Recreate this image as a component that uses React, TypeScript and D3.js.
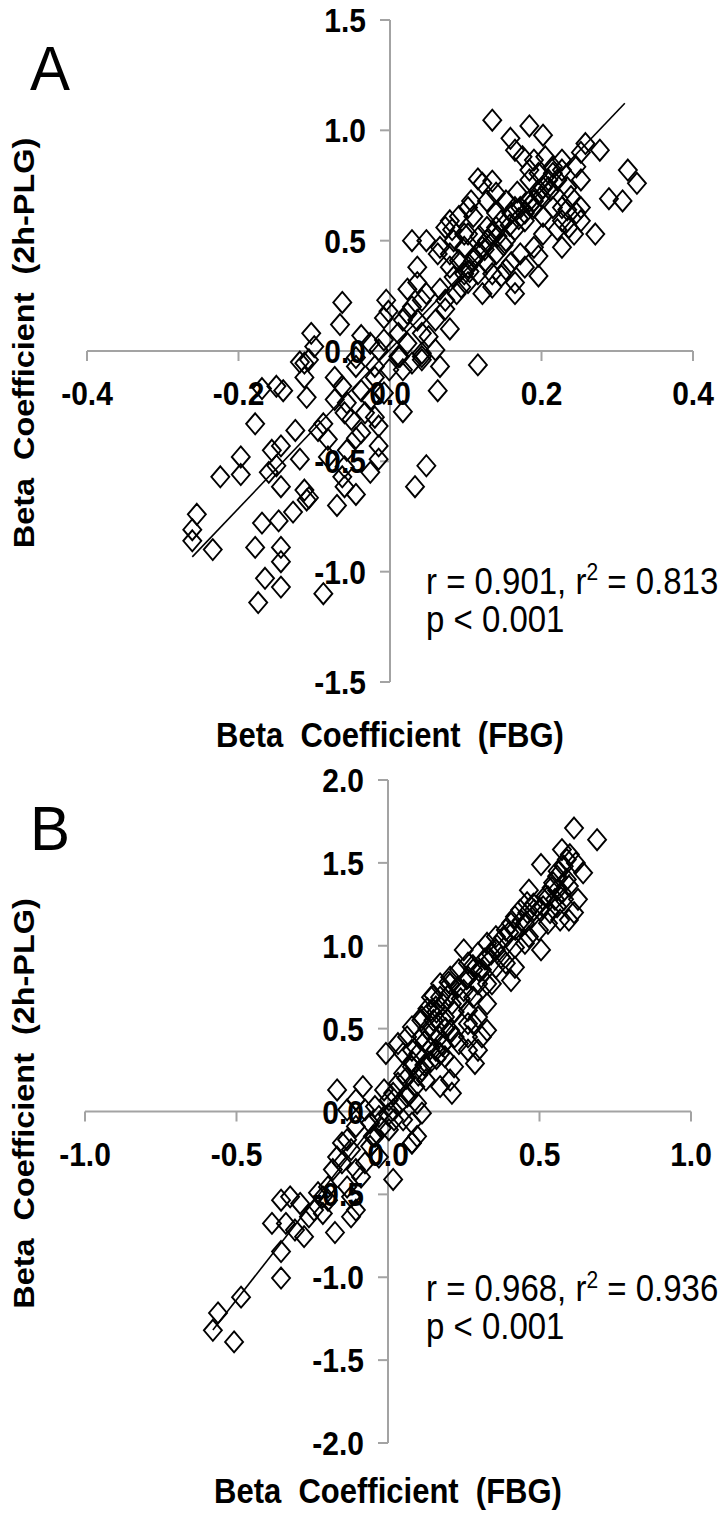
import React, { useEffect, useRef } from "react";
import * as d3 from "d3";

// ---------- DATA ----------
// Panel A: Beta coefficient (FBG) vs Beta coefficient (2h-PLG)
const panelA_x: number[] = [
  0.135, 0.184, 0.202, 0.159, 0.165, 0.175, 0.205, 0.258, 0.277, 0.252, 0.314, 0.326, 0.307, 0.289, 0.271, 0.252, 0.252, 0.227, 0.243,
  0.116, 0.122, 0.135, 0.107, 0.11, 0.029, 0.048, 0.063, 0.082, 0.091, 0.036, 0.165, 0.196, 0.196, 0.147, 0.153,
  -0.063, -0.066, -0.005, -0.002, -0.008, 0.023, 0.036, 0.066, 0.079, 0.116, 0.063, 0.042, 0.06,
  -0.104, -0.1, -0.038, -0.045, -0.107, -0.119, -0.15, -0.169,
  0.017, 0.048, 0.033, -0.178, -0.197, -0.224, -0.197, -0.255, -0.261, -0.261, -0.234, -0.178, -0.169, -0.147, -0.144, -0.144,
  -0.165, -0.144, -0.174, -0.088, -0.128, -0.11, -0.07, -0.045, -0.06, -0.026, -0.015, -0.015, -0.015, -0.045, -0.082, -0.082,
  -0.088, -0.095, -0.125, -0.144, -0.156, -0.15, -0.16, -0.144, -0.119, -0.113, -0.107, -0.141, -0.11, -0.113, -0.113,
  -0.073, -0.063, -0.073, -0.057, -0.038, -0.033, -0.051, -0.06, -0.02, -0.008, -0.001, 0.017, 0.013, -0.02, -0.026, -0.038,
  -0.057, -0.06, -0.063, 0.029, 0.042,
  0.011, 0.017, 0.023, 0.029, 0.042, 0.048, 0.036, 0.042, 0.023, 0.051, 0.06, 0.073, 0.073, 0.088, 0.094, 0.098, 0.103, 0.11,
  0.116, 0.122, 0.128, 0.135, 0.14, 0.147, 0.16, 0.172, 0.184, 0.196, 0.209, 0.221, 0.215, 0.227, 0.196, 0.184, 0.19, 0.178,
  0.165, 0.153, 0.14, 0.128, 0.116, 0.103, 0.084, 0.079, 0.091, 0.098, 0.103, 0.128, 0.14, 0.153, 0.165, 0.178, 0.202, 0.215,
  0.227, 0.221, 0.202, 0.19, 0.172, 0.16, 0.178, 0.165, 0.135, 0.122, 0.135, 0.084, 0.066, 0.079, 0.234, 0.239, 0.252, 0.246,
  0.227, 0.215, 0.209, 0.19, 0.184, 0.202, 0.19, 0.227, 0.234, 0.246, 0.236, 0.14, 0.128, 0.103, 0.079, 0.073, 0.098,
  0.011, -0.008, -0.015, -0.026, -0.02, -0.045, 0.066, 0.042,
  0.112, 0.125, 0.142, 0.158, 0.17, 0.185, 0.2, 0.212, 0.105, 0.118, 0.15, 0.168,
];
const panelA_y: number[] = [
  1.046, 1.02, 0.978, 0.964, 0.91, 0.88, 0.88, 0.94, 0.91, 0.9, 0.82, 0.76, 0.68, 0.69, 0.53, 0.65, 0.59, 0.47, 0.53,
  0.78, 0.76, 0.77, 0.68, 0.61, 0.5, 0.5, 0.44, 0.55, 0.61, 0.38, 0.26, 0.34, 0.43, 0.34, 0.37,
  0.22, 0.12, 0.23, 0.18, 0.15, 0.28, 0.31, 0.28, 0.1, -0.063, -0.18, -0.01, 0.005,
  0.08, 0.02, 0.07, -0.03, -0.04, -0.05, -0.16, -0.17,
  -0.275, -0.52, -0.615, -0.33, -0.48, -0.57, -0.56, -0.74, -0.81, -0.86, -0.9, -0.89, -0.78, -0.77, -0.89, -0.955,
  -1.03, -1.07, -1.14, -1.1, -0.73, -0.675, -0.7, -0.65, -0.615, -0.55, -0.49, -0.43, -0.34, -0.395, -0.48, -0.4,
  -0.33, -0.36, -0.36, -0.43, -0.45, -0.52, -0.55, -0.615, -0.49, -0.63, -0.665, -0.18, -0.21, -0.12, -0.055,
  -0.12, -0.16, -0.22, -0.235, -0.18, -0.28, -0.31, -0.28, -0.3, -0.19, -0.085, -0.085, -0.025, -0.12, -0.22, -0.37,
  -0.45, -0.525, -0.57, -0.055, -0.025,
  0.08, 0.14, 0.17, 0.2, 0.23, 0.26, 0.14, 0.08, 0.035, 0.065, 0.14, 0.19, 0.23, 0.26, 0.29, 0.35, 0.38, 0.41,
  0.44, 0.47, 0.5, 0.53, 0.56, 0.59, 0.625, 0.65, 0.68, 0.715, 0.74, 0.775, 0.805, 0.82, 0.805, 0.775, 0.68, 0.625,
  0.55, 0.5, 0.44, 0.4, 0.35, 0.31, 0.335, 0.38, 0.41, 0.47, 0.53, 0.56, 0.625, 0.68, 0.65, 0.59, 0.61, 0.65,
  0.59, 0.55, 0.53, 0.47, 0.44, 0.4, 0.38, 0.31, 0.29, 0.26, 0.35, 0.5, 0.47, 0.44, 0.74, 0.7, 0.775, 0.835,
  0.865, 0.835, 0.775, 0.865, 0.82, 0.74, 0.65, 0.65, 0.64, 0.625, 0.56, 0.715, 0.68, 0.65, 0.59, 0.56, 0.53,
  -0.025, 0.05, 0.005, 0.035, -0.07, -0.07, -0.07, -0.04,
  0.42, 0.46, 0.52, 0.57, 0.6, 0.66, 0.7, 0.73, 0.36, 0.52, 0.48, 0.72,
];
const trendA_x: number[] = [-0.261, 0.31];
const trendA_y: number[] = [-0.933, 1.123];

// Panel B
const panelB_x: number[] = [
  0.614, 0.69, 0.505, 0.574, 0.59, 0.62, 0.644, 0.558, 0.597, 0.574, 0.551, 0.627, 0.614, 0.597, 0.568, 0.535, 0.512, 0.465,
  0.459, 0.482, 0.419, 0.452, 0.389, 0.356, 0.327, 0.452, 0.505, 0.419, 0.373, 0.297, 0.264, 0.31, 0.406, 0.343, 0.297, 0.25,
  0.205, 0.172, 0.211, 0.264, 0.297, 0.327, 0.31, 0.264, 0.297, 0.287, 0.234, 0.205, 0.172, 0.142, 0.112, 0.079, 0.063, 0.033,
  -0.007, 0.05, 0.079, 0.112, 0.142, 0.158, 0.188, 0.218, 0.205, 0.211, 0.172, 0.125, 0.112, 0.079, 0.05, 0.033, 0.017, 0.003,
  -0.013, 0.063, 0.096, 0.112, 0.079, 0.079, 0.05, 0.017, -0.168, -0.083, -0.106, -0.135, -0.076, -0.043, -0.03, -0.059,
  -0.106, -0.135, -0.043, 0.003, 0.172, 0.264, 0.281, 0.356, 0.389, 0.419, 0.465, 0.498, 0.528, 0.558, 0.581, 0.558, 0.59,
  0.545, 0.528, 0.436, 0.406, 0.356, 0.327, 0.234, 0.205, 0.172, 0.142, 0.158, 0.188, 0.264, 0.281, 0.327, 0.264, 0.327,
  0.25, 0.281,
  0.017, -0.152, -0.122, -0.059, -0.03, -0.076, -0.089, -0.106, -0.168, 0.079, 0.096, -0.231, -0.198, -0.135, -0.122,
  -0.106, -0.122, -0.353, -0.323, -0.29, -0.383, -0.337, -0.307, -0.261, -0.244, -0.215, -0.277, -0.175, -0.353, -0.353,
  -0.485, -0.561, -0.578, -0.508, -0.198, -0.215, -0.152, -0.182,
  0.06, 0.08, 0.1, 0.12, 0.13, 0.14, 0.15, 0.16, 0.17, 0.18, 0.19, 0.2, 0.22, 0.23, 0.24, 0.26, 0.28, 0.3, 0.32, 0.34,
  0.36, 0.38, 0.4, 0.42, 0.44, 0.46, 0.48, 0.5, 0.52, 0.54, 0.56, 0.58, 0.6, 0.04, 0.02, -0.02, -0.05, 0.0, 0.1, 0.12,
  0.14, 0.16, 0.09, 0.07, 0.11, 0.13, 0.15, 0.2, 0.18, 0.22,
];
const panelB_y: number[] = [
  1.71, 1.64, 1.49, 1.58, 1.52, 1.5, 1.44, 1.42, 1.36, 1.32, 1.28, 1.28, 1.2, 1.155, 1.155, 1.2, 1.235, 1.335,
  1.26, 1.215, 1.175, 1.135, 1.095, 1.055, 1.015, 1.015, 0.975, 0.99, 0.93, 0.955, 0.895, 0.855, 0.79, 0.77, 0.77, 0.73,
  0.77, 0.69, 0.65, 0.61, 0.57, 0.49, 0.45, 0.37, 0.37, 0.29, 0.41, 0.49, 0.53, 0.61, 0.57, 0.51, 0.45, 0.41,
  0.35, 0.35, 0.37, 0.45, 0.47, 0.37, 0.33, 0.27, 0.19, 0.11, 0.15, 0.19, 0.25, 0.27, 0.23, 0.17, 0.11, 0.07,
  0.13, 0.09, 0.05, -0.01, -0.07, -0.19, -0.05, 0.01, 0.13, 0.15, 0.07, 0.01, 0.01, 0.03, -0.03, -0.07,
  -0.09, -0.17, -0.15, -0.11, 0.35, 0.45, 0.53, 0.87, 0.895, 0.87, 1.055, 1.095, 1.135, 1.235, 1.28, 1.335, 1.4,
  1.38, 1.295, 1.215, 1.135, 0.975, 0.93, 0.855, 0.81, 0.77, 0.69, 0.63, 0.57, 0.53, 0.69, 0.65, 0.81, 0.77,
  0.975, 0.855,
  -0.41, -0.19, -0.23, -0.21, -0.275, -0.31, -0.395, -0.35, -0.275, -0.19, -0.15, -0.49, -0.535, -0.455, -0.515,
  -0.595, -0.635, -0.535, -0.515, -0.555, -0.675, -0.675, -0.715, -0.635, -0.595, -0.615, -0.755, -0.73, -0.845, -1.005,
  -1.12, -1.215, -1.32, -1.39, -0.455, -0.515, -0.31, -0.35,
  0.2, 0.3, 0.35, 0.42, 0.5, 0.38, 0.55, 0.6, 0.45, 0.65, 0.5, 0.7, 0.6, 0.75, 0.68, 0.8, 0.88, 0.85, 0.92, 0.95,
  1.0, 1.05, 1.08, 1.1, 1.15, 1.2, 1.25, 1.22, 1.3, 1.35, 1.45, 1.48, 1.55, 0.05, -0.05, -0.1, -0.15, -0.02, 0.22, 0.28,
  0.3, 0.32, 0.15, 0.1, 0.55, 0.62, 0.7, 0.78, 0.4, 0.45,
];
const trendB_x: number[] = [-0.578, 0.6];
const trendB_y: number[] = [-1.318, 1.43];

const ticksA_x: number[] = [-0.4, -0.2, 0, 0.2, 0.4];
const ticksA_y: number[] = [-1.5, -1.0, -0.5, 0, 0.5, 1.0, 1.5];
const ticksB_x: number[] = [-1.0, -0.5, 0, 0.5, 1.0];
const ticksB_y: number[] = [-2.0, -1.5, -1.0, -0.5, 0, 0.5, 1.0, 1.5, 2.0];

const panelLabels: string[] = ["A", "B"];
const statsLines: string[][] = [
  ["r = 0.901, r", "2", " = 0.813", "p < 0.001"],
  ["r = 0.968, r", "2", " = 0.936", "p < 0.001"],
];
const xTitle = "Beta  Coefficient  (FBG)";
const yTitle = "Beta  Coefficient  (2h-PLG)";

// ---------- LAYOUT ----------
const W = 726;
const H = 1518;
const FONT = "'Liberation Sans', Arial, Helvetica, sans-serif";
const AXIS_COLOR = "#a3a3a3";
const SY = 1.12; // vertical stretch of text

interface PanelCfg {
  xs: number[];
  ys: number[];
  tx: number[];
  ty: number[];
  xTicks: number[];
  yTicks: number[];
  xDomain: [number, number];
  yDomain: [number, number];
  xRange: [number, number];
  yRange: [number, number];
  top: number;
  titleOffset: number;
  statsOffset: number;
}

const panels: PanelCfg[] = [
  {
    xs: panelA_x, ys: panelA_y, tx: trendA_x, ty: trendA_y,
    xTicks: ticksA_x, yTicks: ticksA_y,
    xDomain: [-0.4, 0.4], yDomain: [-1.5, 1.5],
    xRange: [87, 693], yRange: [682, 20], top: 0,
    titleOffset: 65, statsOffset: 22,
  },
  {
    xs: panelB_x, ys: panelB_y, tx: trendB_x, ty: trendB_y,
    xTicks: ticksB_x, yTicks: ticksB_y,
    xDomain: [-1, 1], yDomain: [-2, 2],
    xRange: [85, 691], yRange: [1443, 780], top: 760,
    titleOffset: 60, statsOffset: 24,
  },
];

const fmt = (v: number) => d3.format(".1f")(v).replace("\u2212", "-");

export default function App() {
  const ref = useRef<SVGSVGElement>(null);

  useEffect(() => {
    const svg = d3.select(ref.current);
    svg.selectAll("*").remove();
    svg.append("rect").attr("width", W).attr("height", H).attr("fill", "#fff");

    const txt = (
      g: d3.Selection<SVGGElement, unknown, null, undefined>,
      x: number, y: number, s: string, size: number, bold: boolean, anchor: string,
      rot = 0, sy = SY,
    ) =>
      g.append("text")
        .attr("transform", `translate(${x},${y}) rotate(${rot}) scale(${rot ? sy : 1},${rot ? 1 : sy})`)
        .attr("text-anchor", anchor)
        .attr("font-family", FONT)
        .attr("font-weight", bold ? "bold" : "normal")
        .attr("font-size", size)
        .attr("fill", "#000")
        .style("white-space", "pre")
        .text(s);

    panels.forEach((p, pi) => {
      const x = d3.scaleLinear().domain(p.xDomain).range(p.xRange);
      const y = d3.scaleLinear().domain(p.yDomain).range(p.yRange);
      const g = svg.append("g") as d3.Selection<SVGGElement, unknown, null, undefined>;
      const x0 = x(0);
      const y0 = y(0);

      // x axis
      g.append("line")
        .attr("x1", p.xRange[0]).attr("x2", p.xRange[1])
        .attr("y1", y0).attr("y2", y0)
        .attr("stroke", AXIS_COLOR).attr("stroke-width", 2);
      p.xTicks.forEach((t) => {
        g.append("line")
          .attr("x1", x(t)).attr("x2", x(t))
          .attr("y1", y0).attr("y2", y0 + 10)
          .attr("stroke", AXIS_COLOR).attr("stroke-width", 2);
      });
      // y axis
      g.append("line")
        .attr("x1", x0).attr("x2", x0)
        .attr("y1", p.yRange[1]).attr("y2", p.yRange[0])
        .attr("stroke", AXIS_COLOR).attr("stroke-width", 2);
      p.yTicks.forEach((t) => {
        g.append("line")
          .attr("x1", x0 - 10).attr("x2", x0)
          .attr("y1", y(t)).attr("y2", y(t))
          .attr("stroke", AXIS_COLOR).attr("stroke-width", 2);
      });

      // tick labels
      p.xTicks.forEach((t) => {
        txt(g, x(t), y0 + 54, fmt(t), 30, true, "middle");
      });
      p.yTicks.forEach((t) => {
        txt(g, x0 - 24, y(t) + 12, fmt(t), 30, true, "end");
      });

      // trend line
      g.append("line")
        .attr("x1", x(p.tx[0])).attr("y1", y(p.ty[0]))
        .attr("x2", x(p.tx[1])).attr("y2", y(p.ty[1]))
        .attr("stroke", "#000").attr("stroke-width", 1.6);

      // points
      const rx = 9;
      const ry = 10.5;
      const diamond = `M0,${-ry}L${rx},0L0,${ry}L${-rx},0Z`;
      p.xs.forEach((xv, i) => {
        g.append("path")
          .attr("d", diamond)
          .attr("transform", `translate(${x(xv)},${y(p.ys[i])})`)
          .attr("fill", "none")
          .attr("stroke", "#000")
          .attr("stroke-width", 1.9);
      });

      // panel letter
      txt(g, 30, p.top + 90, panelLabels[pi], 60, false, "start", 0, 1.05);

      // stats
      const s = statsLines[pi];
      const sy = y(-1.0) + p.statsOffset;
      const t1 = g.append("text")
        .attr("transform", `translate(426,${sy}) scale(1,${SY})`)
        .attr("font-family", FONT).attr("font-size", 33).attr("fill", "#000");
      t1.append("tspan").text(s[0]);
      t1.append("tspan").attr("dy", -12).attr("font-size", 21).text(s[1]);
      t1.append("tspan").attr("dy", 12).text(s[2]);
      txt(g, 426, sy + 38, s[3], 33, false, "start");

      // axis titles
      txt(g, (p.xRange[0] + p.xRange[1]) / 2, p.yRange[0] + p.titleOffset, xTitle, 31, true, "middle");
      const cy = (p.yRange[0] + p.yRange[1]) / 2 - 8;
      txt(g, 34, cy, yTitle, 30, true, "middle", -90, 1.08);
    });
  }, []);

  return (
    <svg
      ref={ref}
      width={W}
      height={H}
      style={{ position: "absolute", left: 0, top: 0, display: "block" }}
    />
  );
}
